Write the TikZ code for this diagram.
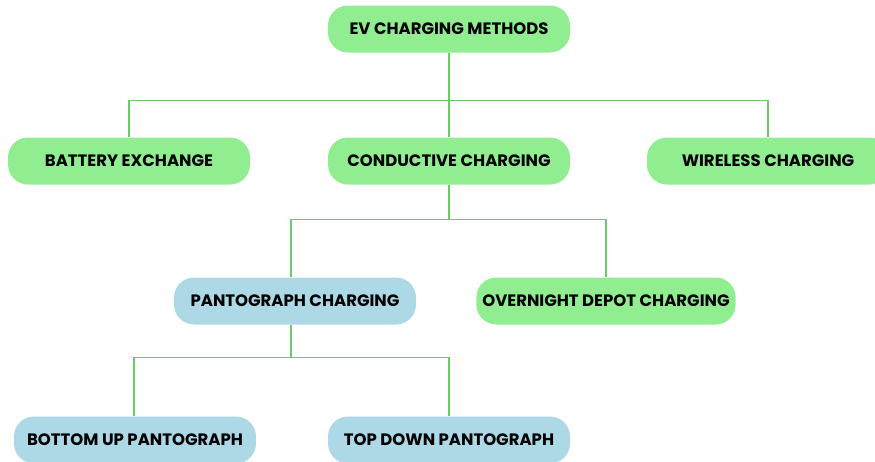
\documentclass[tikz,border=0pt]{standalone}
\usepackage{fontspec}
\setmainfont{Poppins}
\definecolor{boxgreen}{HTML}{90EE90}
\definecolor{boxblue}{HTML}{ADD8E6}
\definecolor{linkgreen}{HTML}{66CC66}

\begin{document}
\begin{tikzpicture}[x=1pt,y=-1pt,
        method/.style={rounded corners=20pt,minimum width=242pt,minimum height=47pt,inner xsep=6pt,font=\bfseries\fontsize{16.5}{18}\selectfont,text=black},
        greenbox/.style={method,fill=boxgreen},
        bluebox/.style={method,fill=boxblue},
        link/.style={draw=linkgreen,line width=1.3pt}]
        \useasboundingbox (0,0) rectangle (875,461);
        \node[greenbox] (ev) at (449,29) {EV CHARGING METHODS};
        \node[greenbox] (battery) at (129,161) {BATTERY EXCHANGE};
        \node[greenbox] (conductive) at (449,161) {CONDUCTIVE CHARGING};
        \node[greenbox] (wireless) at (768,161) {WIRELESS CHARGING};
        \node[bluebox] (panto) at (295,301) {PANTOGRAPH CHARGING};
        \node[greenbox] (depot) at (606,301) {OVERNIGHT DEPOT CHARGING};
        \node[bluebox] (bottomup) at (135,440) {BOTTOM UP PANTOGRAPH};
        \node[bluebox] (topdown) at (449,440) {TOP DOWN PANTOGRAPH};
        \draw[link] (ev.south) -- ++(0,48) -| (battery.north);
        \draw[link] (ev.south) -- ++(0,48) -| (wireless.north);
        \draw[link] (ev.south) -- (conductive.north);
        \draw[link] (conductive.south) -- ++(0,35) -| ([xshift=-4pt]panto.north);
        \draw[link] (conductive.south) -- ++(0,35) -| (depot.north);
        \draw[link] ([xshift=-4pt]panto.south) -- ++(0,33) -| ([xshift=-1pt]bottomup.north);
        \draw[link] ([xshift=-4pt]panto.south) -- ++(0,33) -| (topdown.north);
    \end{tikzpicture}
\end{document}
